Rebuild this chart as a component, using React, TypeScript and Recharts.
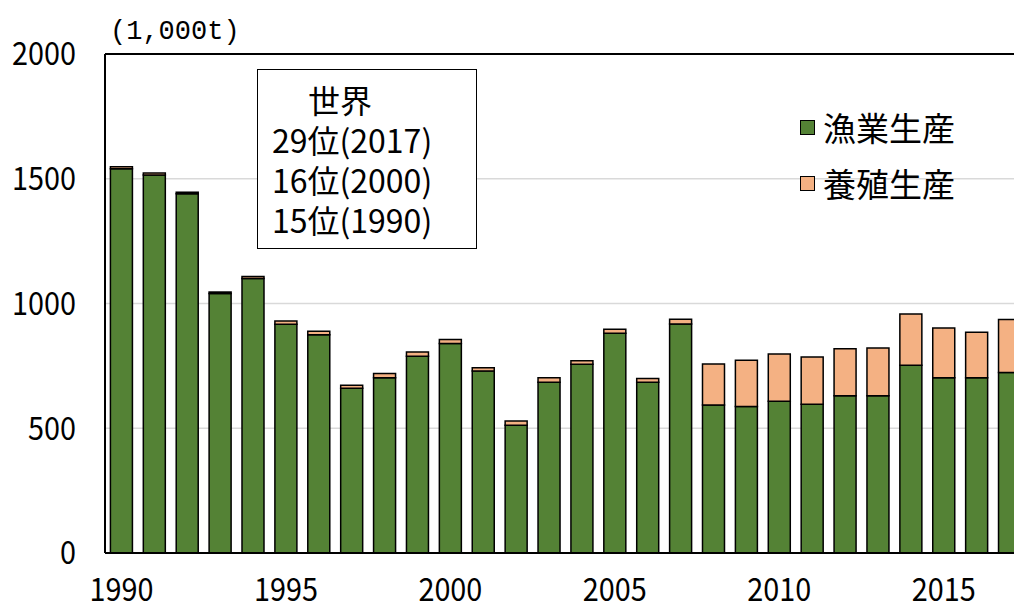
import { BarChart, Bar, XAxis, YAxis, CartesianGrid, ReferenceLine } from 'recharts';

const years = [
  '1990', '1991', '1992', '1993', '1994', '1995', '1996', '1997', '1998', '1999',
  '2000', '2001', '2002', '2003', '2004', '2005', '2006', '2007', '2008', '2009',
  '2010', '2011', '2012', '2013', '2014', '2015', '2016', '2017',
];
const fishing = [
  1540, 1515, 1440, 1040, 1100, 917, 875, 660, 702, 789,
  840, 729, 512, 684, 757, 881, 684, 918, 593, 587,
  608, 596, 630, 630, 753, 702, 702, 723,
];
const aquaculture = [
  8, 8, 6, 6, 8, 13, 14, 12, 17, 17,
  16, 13, 17, 18, 14, 16, 15, 19, 165, 186,
  190, 190, 189, 192, 205, 200, 183, 213,
];
const yTicks = [0, 500, 1000, 1500, 2000];
const rankLines = ['29位(2017)', '16位(2000)', '15位(1990)'];

const FONT = "'Noto Sans CJK JP', sans-serif";
const GREEN = '#548235';
const ORANGE = '#F4B183';

const data = years.map((year, i) => ({ year, fishing: fishing[i], aquaculture: aquaculture[i] }));

const legendItems = [
  { name: '漁業生産', color: GREEN },
  { name: '養殖生産', color: ORANGE },
];

// narrow digits like the original's Japanese UI font
const NarrowTick = ({ x, y, payload, anchor, dy }: any) => (
  <text x={x} y={y} dy={dy} textAnchor={anchor} fontSize={32} fontFamily={FONT} fill="#000"
    transform={`translate(${x},0) scale(0.9,1) translate(${-x},0)`}>
    {payload.value}
  </text>
);

const App = () => {
  return (
    <div style={{ position: 'fixed', left: 0, top: 0, width: 1014, height: 602, overflow: 'hidden', background: '#fff' }}>
      <BarChart width={1040} height={602} data={data} barCategoryGap="16.5%"
        margin={{ top: 54, right: 14, bottom: 0, left: 0 }}>
        <CartesianGrid vertical={false} stroke="#d9d9d9" strokeWidth={1.5} />
        <XAxis dataKey="year" interval={4} height={49} tickLine={false} tickSize={0} tickMargin={25}
          axisLine={{ stroke: '#000', strokeWidth: 2 }} tick={<NarrowTick anchor="middle" dy="0.71em" />} />
        <YAxis type="number" domain={[0, 2000]} ticks={yTicks} width={105} tickLine={false} tickSize={0}
          tickMargin={29} axisLine={{ stroke: '#000', strokeWidth: 2 }} tick={<NarrowTick anchor="end" dy="0.355em" />} />
        <ReferenceLine y={2000} stroke="#000" strokeWidth={2} />
        <Bar dataKey="fishing" name="漁業生産" stackId="a" fill={GREEN} stroke="#000" strokeWidth={1.5}
          isAnimationActive={false} />
        <Bar dataKey="aquaculture" name="養殖生産" stackId="a" fill={ORANGE} stroke="#000" strokeWidth={1.5}
          isAnimationActive={false} />
      </BarChart>
      <div style={{ position: 'absolute', left: 110, top: 17, fontFamily: "'Liberation Mono', monospace", fontSize: 27, color: '#000' }}>
        (1,000t)
      </div>
      <div style={{
        position: 'absolute', left: 257, top: 69, width: 220, height: 180, border: '1.5px solid #000',
        background: '#fff', fontFamily: FONT, fontSize: 32, lineHeight: '40px', color: '#000', boxSizing: 'border-box',
        paddingTop: 9, paddingLeft: 14,
      }}>
        <div style={{ paddingLeft: 36 }}>世界</div>
        {rankLines.map((line) => <div key={line}>{line}</div>)}
      </div>
      <div style={{ position: 'absolute', left: 800, top: 99, fontFamily: FONT }}>
        {legendItems.map((item) => (
          <div key={item.name} style={{ display: 'flex', alignItems: 'center', height: 56 }}>
            <span style={{
              width: 13, height: 13, background: item.color, border: '1px solid #000',
              display: 'inline-block', marginRight: 8,
            }} />
            <span style={{ fontSize: 33, color: '#000' }}>{item.name}</span>
          </div>
        ))}
      </div>
    </div>
  );
};

export default App;
